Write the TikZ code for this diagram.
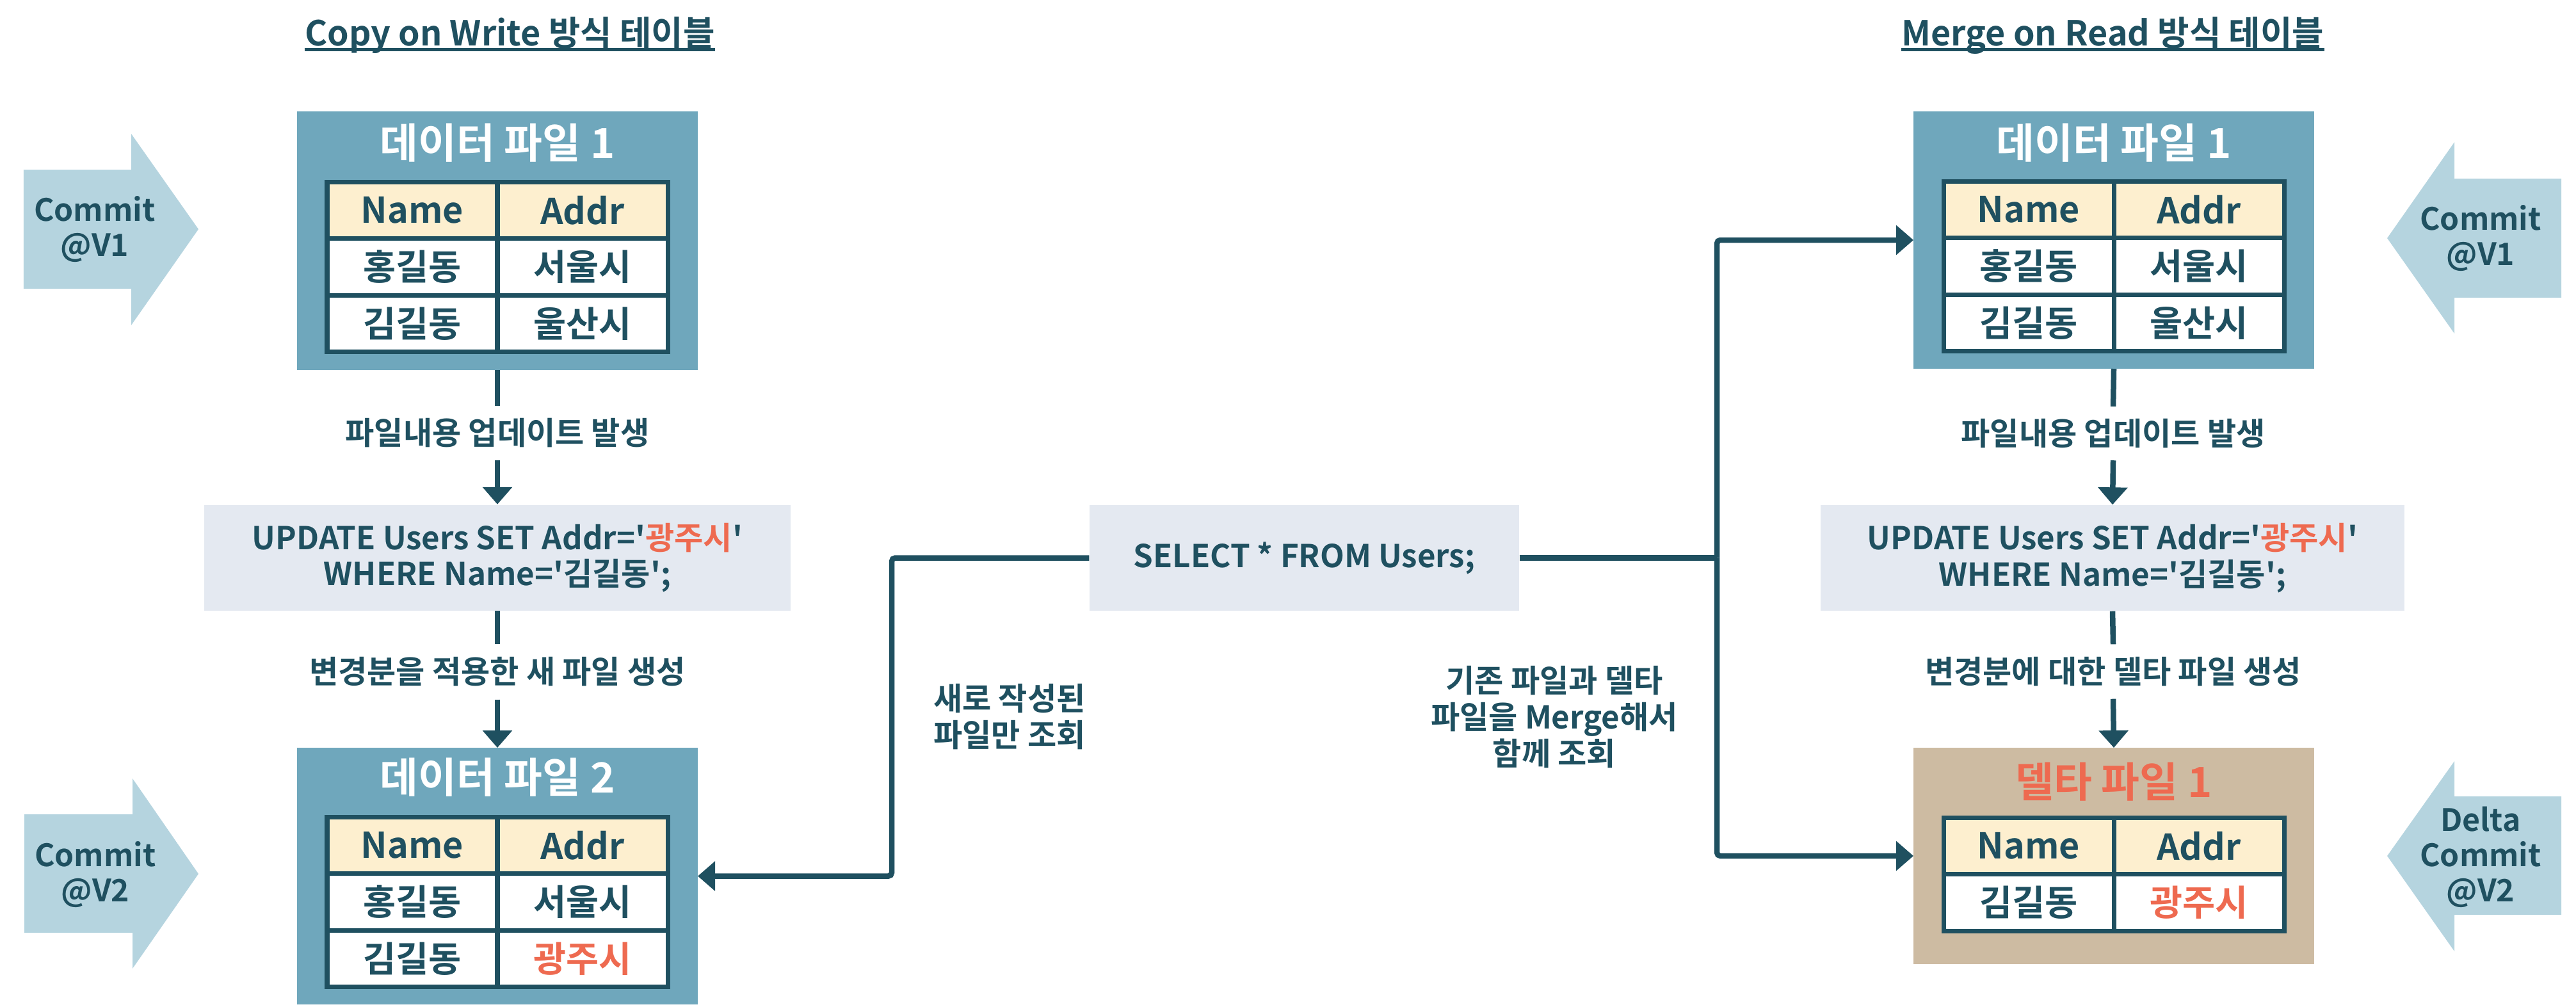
\documentclass[tikz,border=0pt]{standalone}
\usepackage{fontspec}
\setmainfont{Noto Sans CJK KR}[BoldFont=* Bold]
\usepackage{tikz}
\usetikzlibrary{arrows.meta}
\definecolor{ink}{RGB}{31,80,96}
\definecolor{fileblue}{RGB}{111,167,188}
\definecolor{headcream}{RGB}{253,239,207}
\definecolor{commitblue}{RGB}{181,212,223}
\definecolor{querygray}{RGB}{228,233,241}
\definecolor{deltatan}{RGB}{205,187,162}
\definecolor{hot}{RGB}{238,106,80}

\begin{document}
\begin{tikzpicture}[
  filebox/.style={rectangle, fill=fileblue, minimum width=6.26cm, inner sep=0pt, outer sep=0pt},
  deltabox/.style={filebox, fill=deltatan},
  boxtitle/.style={font=\fontsize{18.5}{22}\selectfont\bfseries, text=white, inner sep=0pt},
  cell/.style={rectangle, draw=ink, line width=2pt, fill=white, minimum width=2.66cm,
               minimum height=0.885cm, inner sep=0pt, outer sep=0pt,
               font=\fontsize{15.8}{18}\selectfont\bfseries, text=ink},
  hcell/.style={cell, fill=headcream},
  query/.style={rectangle, fill=querygray, minimum height=1.65cm, inner sep=0pt, align=center,
                font=\fontsize{14}{16}\selectfont\bfseries, text=ink},
  lbl/.style={font=\fontsize{14}{16.2}\selectfont\bfseries, text=ink, inner sep=0pt, align=center},
  heading/.style={font=\fontsize{15.3}{18}\selectfont\bfseries, text=ink, inner sep=0pt},
  commit/.style={font=\fontsize{13.7}{15.7}\selectfont\bfseries, text=ink, align=center, inner sep=0pt},
  conn/.style={ink, line width=0.085cm, rounded corners=1.5pt},
  arr/.style={conn, -{Triangle[length=0.27cm, width=0.45cm]}}
]
\useasboundingbox (0,0) rectangle (40.24,-15.72);

% ── Headings ───────────────────────────
\node[heading, anchor=base] (cowtitle) at (7.965,-0.71) {Copy on Write 방식 테이블};
\node[heading, anchor=base] (mortitle) at (33.005,-0.71) {Merge on Read 방식 테이블};
\draw[ink, line width=0.05cm] ([yshift=-0.06cm]cowtitle.base west) -- ([yshift=-0.06cm]cowtitle.base east);
\draw[ink, line width=0.05cm] ([yshift=-0.06cm]mortitle.base west) -- ([yshift=-0.06cm]mortitle.base east);

% ── Commit arrows ──────────────────────
\fill[commitblue] (0.37,-2.65) -- (2.05,-2.65) -- (2.05,-2.09) -- (3.10,-3.58)
  -- (2.05,-5.08) -- (2.05,-4.51) -- (0.37,-4.51) -- cycle;
\node[commit] (cwv1) at (1.48,-3.58) {Commit\\@V1};

\fill[commitblue] (0.38,-12.72) -- (2.07,-12.72) -- (2.07,-12.16) -- (3.10,-13.65)
  -- (2.07,-15.13) -- (2.07,-14.57) -- (0.38,-14.57) -- cycle;
\node[commit] (cwv2) at (1.49,-13.66) {Commit\\@V2};

\fill[commitblue] (40.01,-2.79) -- (38.34,-2.79) -- (38.34,-2.22) -- (37.29,-3.72)
  -- (38.34,-5.21) -- (38.34,-4.65) -- (40.01,-4.65) -- cycle;
\node[commit] (mrv1) at (38.75,-3.72) {Commit\\@V1};

\fill[commitblue] (40.01,-12.44) -- (38.34,-12.44) -- (38.34,-11.89) -- (37.29,-13.37)
  -- (38.34,-14.86) -- (38.34,-14.29) -- (40.01,-14.29) -- cycle;
\node[commit] (mrv2) at (38.75,-13.39) {Delta\\Commit\\@V2};

% ── Copy on Write: data file 1 ─────────
\node[filebox, minimum height=4.04cm] (cwfile1) at (7.77,-3.76) {};
\node[boxtitle] at (7.77,-2.23) {데이터 파일 1};
\node[hcell] (cwa11) at (6.44,-3.2825) {Name};
\node[hcell] (cwa12) at (9.10,-3.2825) {Addr};
\node[cell]  (cwa21) at (6.44,-4.1675) {홍길동};
\node[cell]  (cwa22) at (9.10,-4.1675) {서울시};
\node[cell]  (cwa31) at (6.44,-5.0525) {김길동};
\node[cell]  (cwa32) at (9.10,-5.0525) {울산시};

% ── Copy on Write: update steps ────────
\node[lbl, minimum height=0.83cm] (cwstep1) at (7.77,-6.765) {파일내용 업데이트 발생};
\node[query, minimum width=9.16cm] (cwupdate) at (7.77,-8.71)
  {UPDATE Users SET Addr=\textquotesingle\textcolor{hot}{광주시}\textquotesingle\\
   WHERE Name=\textquotesingle 김길동\textquotesingle;};
\node[lbl, minimum height=0.85cm] (cwstep2) at (7.77,-10.495) {변경분을 적용한 새 파일 생성};

% ── Copy on Write: data file 2 ─────────
\node[filebox, minimum height=4.01cm] (cwfile2) at (7.77,-13.685) {};
\node[boxtitle] at (7.77,-12.14) {데이터 파일 2};
\node[hcell] (cwb11) at (6.44,-13.2025) {Name};
\node[hcell] (cwb12) at (9.10,-13.2025) {Addr};
\node[cell]  (cwb21) at (6.44,-14.0875) {홍길동};
\node[cell]  (cwb22) at (9.10,-14.0875) {서울시};
\node[cell]  (cwb31) at (6.44,-14.9725) {김길동};
\node[cell, text=hot] (cwb32) at (9.10,-14.9725) {광주시};

\draw[conn] (cwfile1.south) -- (cwstep1.north);
\draw[arr]  (cwstep1.south) -- (cwupdate.north);
\draw[conn] (cwupdate.south) -- (cwstep2.north);
\draw[arr]  (cwstep2.south) -- (cwfile2.north);

% ── Merge on Read: data file 1 ─────────
\node[filebox, minimum height=4.02cm] (mrfile1) at (33.02,-3.75) {};
\node[boxtitle] at (33.02,-2.23) {데이터 파일 1};
\node[hcell] (mra11) at (31.69,-3.2725) {Name};
\node[hcell] (mra12) at (34.35,-3.2725) {Addr};
\node[cell]  (mra21) at (31.69,-4.1575) {홍길동};
\node[cell]  (mra22) at (34.35,-4.1575) {서울시};
\node[cell]  (mra31) at (31.69,-5.0425) {김길동};
\node[cell]  (mra32) at (34.35,-5.0425) {울산시};

% ── Merge on Read: update steps ────────
\node[lbl, minimum height=0.83cm] (mrstep1) at (33.01,-6.77) {파일내용 업데이트 발생};
\node[query, minimum width=9.12cm] (mrupdate) at (33.00,-8.715)
  {UPDATE Users SET Addr=\textquotesingle\textcolor{hot}{광주시}\textquotesingle\\
   WHERE Name=\textquotesingle 김길동\textquotesingle;};
\node[lbl, minimum height=0.84cm] (mrstep2) at (33.01,-10.49) {변경분에 대한 델타 파일 생성};

% ── Merge on Read: delta file 1 ────────
\node[deltabox, minimum height=3.38cm] (mrdelta) at (33.02,-13.37) {};
\node[boxtitle, text=hot] at (33.02,-12.21) {델타 파일 1};
\node[hcell] (mrd11) at (31.69,-13.2125) {Name};
\node[hcell] (mrd12) at (34.35,-13.2125) {Addr};
\node[cell]  (mrd21) at (31.69,-14.0975) {김길동};
\node[cell, text=hot] (mrd22) at (34.35,-14.0975) {광주시};

\draw[conn] (mrfile1.south) -- (mrstep1.north);
\draw[arr]  (mrstep1.south) -- (mrupdate.north);
\draw[conn] (mrupdate.south) -- (mrstep2.north);
\draw[arr]  (mrstep2.south) -- (mrdelta.north);

% ── Read query ─────────────────────────
\node[query, minimum width=6.71cm] (select) at (20.375,-8.715) {SELECT * FROM Users;};
\coordinate (cwturn) at (13.93,-8.715);
\coordinate (mrturn) at (26.82,-8.715);

\draw[arr]  (select.west) -- (cwturn) |- (cwfile2.east);
\draw[conn] (select.east) -- (mrturn);
\draw[arr]  (mrturn) |- (mrfile1.west);
\draw[arr]  (mrturn) |- (mrdelta.west);

\node[lbl] (cwread) at (15.77,-11.20) {새로 작성된\\파일만 조회};
\node[lbl] (mrread) at (24.28,-11.20) {기존 파일과 델타\\파일을 Merge해서\\함께 조회};

\end{tikzpicture}
\end{document}
